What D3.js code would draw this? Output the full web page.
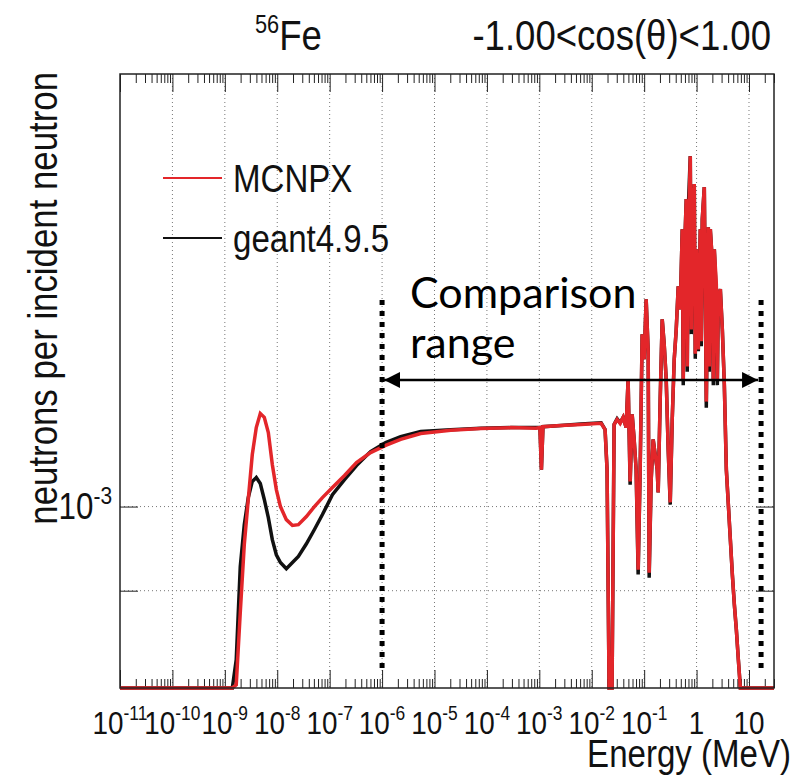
<!DOCTYPE html>
<html>
<head>
<meta charset="utf-8">
<script src="https://cdn.jsdelivr.net/npm/d3@7"></script>
<style>
  body { margin: 0; background: #fff; }
  text { font-family: "Liberation Sans", Arial, sans-serif; fill: #111; }
</style>
</head>
<body>
<div id="chart"></div>
<script>
// canvas
var w = 798;
var h = 776;
var padL = 120, padR = 774, padT = 74, padB = 688;
var squeeze = 0.87; // the original text is a bit narrow

// neutron energy (MeV), one entry per histogram point
var energy = [
  1e-11, 1.39e-9, 1.65e-9, 1.97e-9, 2.35e-9, 2.80e-9, 3.34e-9, 3.98e-9, 4.75e-9, 5.66e-9,
  6.76e-9, 8.05e-9, 9.61e-9, 1.15e-8, 1.49e-8, 1.95e-8, 2.53e-8, 3.60e-8, 5.12e-8, 7.28e-8,
  1.13e-7, 1.92e-7, 3.25e-7, 6.03e-7, 1.17e-6, 2.26e-6, 5.45e-6, 2.04e-5, 7.64e-5, 2.86e-4,
  8.61e-4, 1.027e-3, 1.096e-3, 1.172e-3, 2.59e-3, 6.24e-3, 1.51e-2, 1.796e-2, 1.96e-2, 2.142e-2,
  2.44e-2, 0.0267, 0.0305, 0.0348, 0.0397, 0.0453, 0.0494, 0.0540, 0.0590, 0.0644,
  0.0703, 0.0768, 0.0839, 0.0916, 0.1000, 0.1092, 0.1193, 0.1246, 0.1361, 0.1486,
  0.1623, 0.1773, 0.1852, 0.2022, 0.2209, 0.2412, 0.2634, 0.2877, 0.3142, 0.3431,
  0.3747, 0.4092, 0.4469, 0.4881, 0.5330, 0.5568, 0.5821, 0.6357, 0.6643, 0.6943,
  0.7582, 0.7920, 0.8280, 0.9038, 0.9443, 0.987, 1.078, 1.177, 1.230, 1.285,
  1.404, 1.533, 1.674, 1.749, 1.828, 1.996, 2.086, 2.180, 2.381, 2.488,
  2.600, 2.840, 3.100, 3.385, 3.698, 4.038, 4.410, 4.815, 5.258, 5.742,
  6.270, 6.849, 30
];

// neutrons per incident neutron, MCNPX
var mcnpx = [
  0, 0, 6.23e-4, 7.55e-4, 9.04e-4, 1.019e-3, 1.148e-3, 1.233e-3, 1.280e-3, 1.267e-3,
  1.217e-3, 1.118e-3, 1.046e-3, 1.000e-3, 9.66e-4, 9.51e-4, 9.53e-4, 9.74e-4, 1.000e-3, 1.024e-3,
  1.052e-3, 1.086e-3, 1.124e-3, 1.154e-3, 1.176e-3, 1.195e-3, 1.214e-3, 1.224e-3, 1.230e-3, 1.233e-3,
  1.231e-3, 1.233e-3, 1.103e-3, 1.236e-3, 1.240e-3, 1.243e-3, 1.247e-3, 1.227e-3, 1.103e-3, 0,
  0, 1.243e-3, 1.260e-3, 1.247e-3, 1.267e-3, 1.233e-3, 1.401e-3, 1.069e-3, 1.277e-3, 1.195e-3,
  1.103e-3, 8.46e-4, 1.103e-3, 1.579e-3, 1.478e-3, 1.733e-3, 1.510e-3, 8.39e-4, 1.074e-3, 1.195e-3,
  1.148e-3, 1.103e-3, 1.038e-3, 1.328e-3, 1.643e-3, 1.538e-3, 1.401e-3, 1.163e-3, 1.011e-3, 1.260e-3,
  1.478e-3, 1.600e-3, 1.794e-3, 1.687e-3, 2.087e-3, 1.40e-3, 1.927e-3, 2.260e-3, 1.45e-3, 2.032e-3,
  2.533e-3, 1.60e-3, 2.172e-3, 2.352e-3, 1.50e-3, 1.979e-3, 1.517e-3, 2.087e-3, 1.55e-3, 2.143e-3,
  2.333e-3, 1.321e-3, 2.098e-3, 1.45e-3, 2.087e-3, 1.917e-3, 1.40e-3, 1.979e-3, 1.804e-3, 1.40e-3,
  1.733e-3, 1.780e-3, 1.600e-3, 1.382e-3, 1.103e-3, 1.005e-3, 9.16e-4, 8.35e-4, 7.71e-4, 7.21e-4,
  6.66e-4, 0, 0
];

// neutrons per incident neutron, geant4.9.5
var geant = [
  0, 0, 6.66e-4, 8.53e-4, 9.53e-4, 1.024e-3, 1.069e-3, 1.080e-3, 1.063e-3, 1.019e-3,
  9.71e-4, 9.16e-4, 8.80e-4, 8.62e-4, 8.48e-4, 8.62e-4, 8.76e-4, 9.06e-4, 9.41e-4, 9.79e-4,
  1.032e-3, 1.074e-3, 1.115e-3, 1.157e-3, 1.185e-3, 1.204e-3, 1.220e-3, 1.226e-3, 1.231e-3, 1.233e-3,
  1.233e-3, 1.233e-3, 1.103e-3, 1.236e-3, 1.240e-3, 1.245e-3, 1.249e-3, 1.227e-3, 1.103e-3, 0,
  0, 1.243e-3, 1.262e-3, 1.249e-3, 1.267e-3, 1.233e-3, 1.401e-3, 1.060e-3, 1.277e-3, 1.195e-3,
  1.103e-3, 8.35e-4, 1.103e-3, 1.579e-3, 1.478e-3, 1.733e-3, 1.510e-3, 8.28e-4, 1.074e-3, 1.195e-3,
  1.148e-3, 1.103e-3, 1.038e-3, 1.328e-3, 1.643e-3, 1.538e-3, 1.401e-3, 1.163e-3, 1.005e-3, 1.260e-3,
  1.478e-3, 1.600e-3, 1.794e-3, 1.687e-3, 2.087e-3, 1.38e-3, 1.927e-3, 2.260e-3, 1.43e-3, 2.201e-3,
  2.533e-3, 1.58e-3, 2.172e-3, 2.352e-3, 1.48e-3, 1.979e-3, 1.510e-3, 2.087e-3, 1.53e-3, 2.143e-3,
  2.333e-3, 1.300e-3, 2.098e-3, 1.43e-3, 2.087e-3, 1.917e-3, 1.38e-3, 1.979e-3, 1.750e-3, 1.38e-3,
  1.733e-3, 1.780e-3, 1.600e-3, 1.382e-3, 1.103e-3, 1.005e-3, 9.16e-4, 8.35e-4, 7.71e-4, 7.21e-4,
  6.66e-4, 0, 0
];

// axis ticks
var xDecades = [1e-11, 1e-10, 1e-9, 1e-8, 1e-7, 1e-6, 1e-5, 1e-4, 1e-3, 1e-2, 1e-1, 1, 10];
var xExponents = ["-11", "-10", "-9", "-8", "-7", "-6", "-5", "-4", "-3", "-2", "-1", "", ""];
var xBase = ["10", "10", "10", "10", "10", "10", "10", "10", "10", "10", "10", "1", "10"];
var yTicks = [1e-3, 8e-4];
var yMin = 6.18e-4, yMax = 3.15e-3;

// comparison range (MeV)
var rangeLo = 1e-6, rangeHi = 17;

var svg = d3.select("#chart")
    .append("svg")
    .attr("width", w)
    .attr("height", h);

var xScale = d3.scaleLog().domain([1e-11, 30]).range([padL, padR]);
var yScale = d3.scaleLog().domain([yMin, yMax]).range([padB, padT]);

// text placed at x,y and squeezed horizontally
function label(x, y, size, anchor) {
    return svg.append("text")
        .attr("transform", "translate(" + x + "," + y + ") scale(" + squeeze + ",1)")
        .attr("text-anchor", anchor || "start")
        .style("font-size", size + "px");
}

// minor ticks 2..9 per decade
var minor = [];
xDecades.forEach(function (d) {
    for (var k = 2; k <= 9; k++) {
        if (d * k <= 30) minor.push(d * k);
    }
});

// grid
svg.append("g").selectAll("line")
    .data(xDecades.slice(1))
    .enter().append("line")
    .attr("x1", function (d) { return xScale(d); })
    .attr("x2", function (d) { return xScale(d); })
    .attr("y1", padT).attr("y2", padB)
    .attr("stroke", "#777").attr("stroke-width", 1)
    .attr("stroke-dasharray", "1,3");

svg.append("g").selectAll("line")
    .data(yTicks)
    .enter().append("line")
    .attr("x1", padL).attr("x2", padR)
    .attr("y1", function (d) { return yScale(d); })
    .attr("y2", function (d) { return yScale(d); })
    .attr("stroke", "#777").attr("stroke-width", 1)
    .attr("stroke-dasharray", "1,3");

// axes with inward ticks
function tickAxis(axisFn, vals, size, tr) {
    svg.append("g")
        .attr("transform", tr)
        .call(axisFn.tickValues(vals).tickSize(size).tickSizeOuter(0).tickFormat(""))
        .call(function (g) { g.select(".domain").remove(); })
        .selectAll("line").attr("stroke", "#222");
}
tickAxis(d3.axisBottom(xScale), xDecades, -18, "translate(0," + padB + ")");
tickAxis(d3.axisBottom(xScale), minor, -9, "translate(0," + padB + ")");
tickAxis(d3.axisTop(xScale), xDecades, -18, "translate(0," + padT + ")");
tickAxis(d3.axisTop(xScale), minor, -9, "translate(0," + padT + ")");
tickAxis(d3.axisLeft(yScale), yTicks, -18, "translate(" + padL + ",0)");
tickAxis(d3.axisRight(yScale), yTicks, -18, "translate(" + padR + ",0)");

// histograms
var line = d3.line()
    .x(function (d) { return xScale(d[0]); })
    .y(function (d) { return yScale(Math.max(d[1], yMin)); });

svg.append("path")
    .datum(energy.map(function (e, i) { return [e, geant[i]]; }))
    .attr("d", line)
    .attr("fill", "none")
    .attr("stroke", "#111")
    .attr("stroke-width", 3.5);

svg.append("path")
    .datum(energy.map(function (e, i) { return [e, mcnpx[i]]; }))
    .attr("d", line)
    .attr("fill", "none")
    .attr("stroke", "#e3262a")
    .attr("stroke-width", 3.5);

// frame
svg.append("rect")
    .attr("x", padL).attr("y", padT)
    .attr("width", padR - padL).attr("height", padB - padT)
    .attr("fill", "none").attr("stroke", "#222").attr("stroke-width", 1.5);

// x tick labels
xDecades.forEach(function (d, i) {
    var t = label(xScale(d), 734, 32, "middle");
    t.append("tspan").text(xBase[i]);
    t.append("tspan").attr("dy", -14).style("font-size", "20px").text(xExponents[i]);
});

// y tick label
var yl = label(112, yScale(1e-3) + 12, 36, "end");
yl.append("tspan").text("10");
yl.append("tspan").attr("dy", -15).style("font-size", "24px").text("-3");

// axis titles
label(791, 767, 38, "end").text("Energy (MeV)");

svg.append("text")
    .attr("transform", "translate(57,72) rotate(-90) scale(" + squeeze + ",1)")
    .attr("text-anchor", "end")
    .style("font-size", "40px")
    .text("neutrons per incident neutron");

// header
var t1 = label(255, 50, 42);
t1.append("tspan").style("font-size", "25px").attr("dy", -17).text("56");
t1.append("tspan").attr("dy", 17).text("Fe");

label(771, 50, 42, "end").text("-1.00<cos(\u03b8)<1.00");

// legend
var legend = [["MCNPX", "#e3262a"], ["geant4.9.5", "#111"]];
legend.forEach(function (d, i) {
    var ly = 178 + i * 60;
    svg.append("line")
        .attr("x1", 163).attr("x2", 222)
        .attr("y1", ly).attr("y2", ly)
        .attr("stroke", d[1]).attr("stroke-width", 2);
    label(233, ly + 14, 38).text(d[0]);
});

// comparison range annotation
svg.append("defs").append("marker")
    .attr("id", "head")
    .attr("viewBox", "0 0 10 10")
    .attr("refX", 10).attr("refY", 5)
    .attr("markerWidth", 16).attr("markerHeight", 16)
    .attr("markerUnits", "userSpaceOnUse")
    .attr("orient", "auto-start-reverse")
    .append("path")
    .attr("d", "M0,0L10,5L0,10Z")
    .attr("fill", "#000");

[rangeLo, rangeHi].forEach(function (d) {
    svg.append("line")
        .attr("x1", xScale(d)).attr("x2", xScale(d))
        .attr("y1", 300).attr("y2", 668)
        .attr("stroke", "#000").attr("stroke-width", 5)
        .attr("stroke-dasharray", "5,6");
});

svg.append("line")
    .attr("x1", xScale(rangeLo) + 2).attr("x2", xScale(rangeHi) - 3)
    .attr("y1", 380).attr("y2", 380)
    .attr("stroke", "#000").attr("stroke-width", 2.5)
    .attr("marker-start", "url(#head)")
    .attr("marker-end", "url(#head)");

svg.append("text")
    .attr("x", 410).attr("y", 308)
    .style("font-family", "Lato, sans-serif")
    .style("font-size", "43px")
    .style("fill", "#000")
    .text("Comparison");
svg.append("text")
    .attr("x", 410).attr("y", 358)
    .style("font-family", "Lato, sans-serif")
    .style("font-size", "43px")
    .style("fill", "#000")
    .text("range");
</script>
</body>
</html>
